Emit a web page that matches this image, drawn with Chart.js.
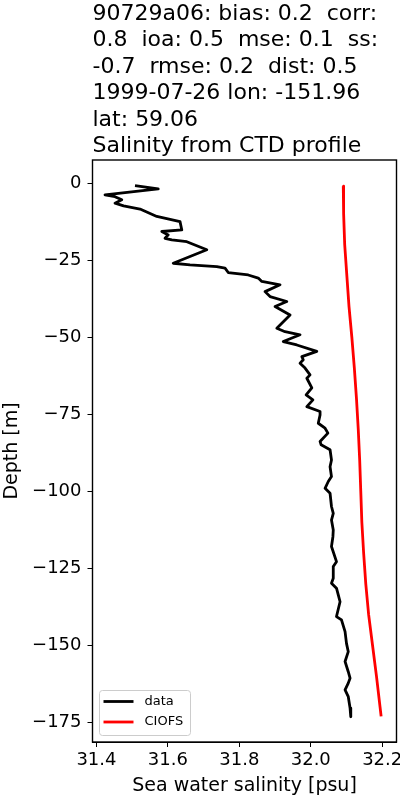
<!DOCTYPE html>
<html>
<head>
<meta charset="utf-8">
<script src="https://cdn.jsdelivr.net/npm/chart.js@4.4.0/dist/chart.umd.min.js"></script>
<style>
  html, body { margin: 0; padding: 0; background: #fff; overflow: hidden; }
  #wrap { width: 400px; height: 800px; }
</style>
</head>
<body>
<div id="wrap"><canvas id="chart-salinity"></canvas></div>
<script>
var titleLines = [
    "90729a06: bias: 0.2  corr:",
    "0.8  ioa: 0.5  mse: 0.1  ss:",
    "-0.7  rmse: 0.2  dist: 0.5",
    "1999-07-26 lon: -151.96",
    "lat: 59.06",
    "Salinity from CTD profile"
];

// CTD cast (black)
var dataDepth = [-0.8, -1.9, -3.8, -4.4, -5.4, -6.5, -7.4, -8.4, -10.8, -12.5,
    -15.2, -15.7, -16.8, -17.9, -18.4, -19.0, -21.6, -26.0, -26.5, -27.1,
    -27.6, -29.0, -29.8, -30.8, -31.9, -33.0, -35.2, -36.8, -38.4, -40.0,
    -42.8, -47.1, -48.2, -49.2, -51.4, -52.5, -54.6, -56.3, -57.3, -58.4,
    -60.0, -62.2, -63.3, -66.4, -68.7, -70.3, -72.5, -74.1, -75.2, -77.9,
    -79.5, -81.1, -83.8, -84.9, -86.5, -89.8, -92.0, -95.2, -96.8, -99.0,
    -100.6, -104.9, -107.1, -109.3, -112.5, -114.7, -117.9, -122.8, -124.4, -128.2,
    -129.8, -131.4, -133.6, -135.8, -140.6, -141.7, -145.5, -149.3, -152.0, -155.2,
    -158.5, -160.6, -162.2, -164.4, -166.6, -170.3, -173.1];
var dataSalinity = [31.508, 31.573, 31.424, 31.452, 31.471, 31.452, 31.476, 31.522, 31.569, 31.634,
    31.639, 31.583, 31.601, 31.592, 31.611, 31.653, 31.709, 31.615, 31.662, 31.737,
    31.760, 31.769, 31.825, 31.853, 31.863, 31.914, 31.872, 31.886, 31.933, 31.900,
    31.942, 31.905, 31.928, 31.970, 31.923, 31.961, 32.017, 31.975, 31.979, 31.970,
    31.984, 31.998, 31.989, 32.003, 31.987, 32.006, 31.989, 32.026, 32.026, 32.021,
    32.040, 32.048, 32.026, 32.029, 32.054, 32.058, 32.054, 32.058, 32.049, 32.040,
    32.054, 32.058, 32.063, 32.058, 32.063, 32.062, 32.058, 32.072, 32.063, 32.063,
    32.058, 32.072, 32.077, 32.082, 32.072, 32.086, 32.096, 32.100, 32.105, 32.096,
    32.105, 32.110, 32.105, 32.096, 32.105, 32.110, 32.112];

// model profile (red)
var modelDepth = [-1, -10, -20, -30, -40, -50, -60, -70, -80, -90,
    -100, -110, -120, -130, -140, -150, -160, -170, -173];
var modelSalinity = [32.091, 32.092, 32.095, 32.101, 32.107, 32.115, 32.122, 32.128, 32.133, 32.137,
    32.140, 32.143, 32.148, 32.154, 32.162, 32.173, 32.184, 32.194, 32.197];

var xTicks = [31.4, 31.6, 31.8, 32.0, 32.2];
var yTicks = [0, -25, -50, -75, -100, -125, -150, -175];

function toPoints(xs, ys) {
    return xs.map(function(x, i) { return {x: x, y: ys[i]}; });
}

Chart.defaults.font.family = "'DejaVu Sans', sans-serif";
Chart.defaults.color = "#000";

// axes frame all round, like matplotlib spines
var framePlugin = {
    id: 'axesFrame',
    afterDraw: function(chart) {
        var a = chart.chartArea, c = chart.ctx;
        c.save();
        c.strokeStyle = '#000000';
        c.lineWidth = 1.4;
        c.strokeRect(a.left, a.top, a.right - a.left, a.bottom - a.top);
        c.restore();
    }
};

// legend box inside the axes, lower left
var innerLegend = {
    id: 'innerLegend',
    afterDraw: function(chart) {
        var c = chart.ctx;
        var x0 = 99.5, y0 = 690.5, w = 91, h = 45, r = 3;
        c.save();
        c.beginPath();
        c.roundRect(x0, y0, w, h, r);
        c.fillStyle = 'rgba(255,255,255,0.8)';
        c.fill();
        c.strokeStyle = '#cccccc';
        c.lineWidth = 1;
        c.stroke();
        c.font = "13px 'DejaVu Sans'";
        c.textBaseline = 'middle';
        c.textAlign = 'left';
        chart.data.datasets.forEach(function(ds, i) {
            var y = 701.5 + i * 20.5;
            c.beginPath();
            c.moveTo(103.5, y);
            c.lineTo(133.5, y);
            c.strokeStyle = ds.borderColor;
            c.lineWidth = ds.borderWidth;
            c.stroke();
            c.fillStyle = '#000';
            c.fillText(ds.label, 144.5, y);
        });
        c.restore();
    }
};

var ctx = document.getElementById('chart-salinity');
var salinityChart = new Chart(ctx, {
    type: 'scatter',
    data: {
        datasets: [
            {
                label: 'data',
                data: toPoints(dataSalinity, dataDepth),
                showLine: true,
                borderColor: '#000000',
                backgroundColor: '#000000',
                borderWidth: 2.8,
                borderJoinStyle: 'round',
                pointRadius: 0
            },
            {
                label: 'CIOFS',
                data: toPoints(modelSalinity, modelDepth),
                showLine: true,
                borderColor: '#ff0000',
                backgroundColor: '#ff0000',
                borderWidth: 2.8,
                borderJoinStyle: 'round',
                pointRadius: 0
            }
        ]
    },
    options: {
        responsive: true,
        maintainAspectRatio: false,
        animation: false,
        layout: { autoPadding: false, padding: { left: 0, right: 3.5, top: 0, bottom: 0 } },
        plugins: {
            legend: { display: false },
            tooltip: { enabled: false },
            title: {
                display: true,
                text: titleLines,
                align: 'start',
                fullSize: false,
                color: '#000',
                font: { size: 22, weight: 'normal', lineHeight: '26.5px' },
                padding: { top: 1, bottom: 0 }
            }
        },
        scales: {
            x: {
                type: 'linear',
                min: 31.389,
                max: 32.240,
                afterBuildTicks: function(scale) {
                    scale.ticks = xTicks.map(function(v) { return {value: v}; });
                },
                afterFit: function(scale) {
                    scale.height = 58;
                    scale.paddingLeft = 0;   // let "32.2" hang past the frame, as matplotlib does
                    scale.paddingRight = 0;
                },
                ticks: {
                    font: { size: 18 },
                    color: '#000',
                    padding: 3,
                    maxRotation: 0,
                    callback: function(v) { return Number(v).toFixed(1); }
                },
                grid: { drawOnChartArea: false, drawTicks: true, tickLength: 5, color: '#000' },
                border: { display: true, color: '#000', width: 1 },
                title: {
                    display: true,
                    text: 'Sea water salinity [psu]',
                    font: { size: 19 },
                    color: '#000',
                    padding: { top: 0, bottom: 3 }
                }
            },
            y: {
                type: 'linear',
                min: -181.3,
                max: 7.5,
                afterBuildTicks: function(scale) {
                    scale.ticks = yTicks.map(function(v) { return {value: v}; });
                },
                afterFit: function(scale) {
                    scale.width = 92.5;
                    scale.paddingTop = 0;
                    scale.paddingBottom = 0;
                },
                ticks: {
                    font: { size: 18 },
                    color: '#000',
                    padding: 6,
                    callback: function(v) { return v < 0 ? '\u2212' + Math.abs(v) : String(v); }
                },
                grid: { drawOnChartArea: false, drawTicks: true, tickLength: 5, color: '#000' },
                border: { display: true, color: '#000', width: 1 },
                title: {
                    display: true,
                    text: 'Depth [m]',
                    font: { size: 19 },
                    color: '#000',
                    padding: { top: 1, bottom: 0 }
                }
            }
        }
    },
    plugins: [framePlugin, innerLegend]
});
</script>
</body>
</html>
